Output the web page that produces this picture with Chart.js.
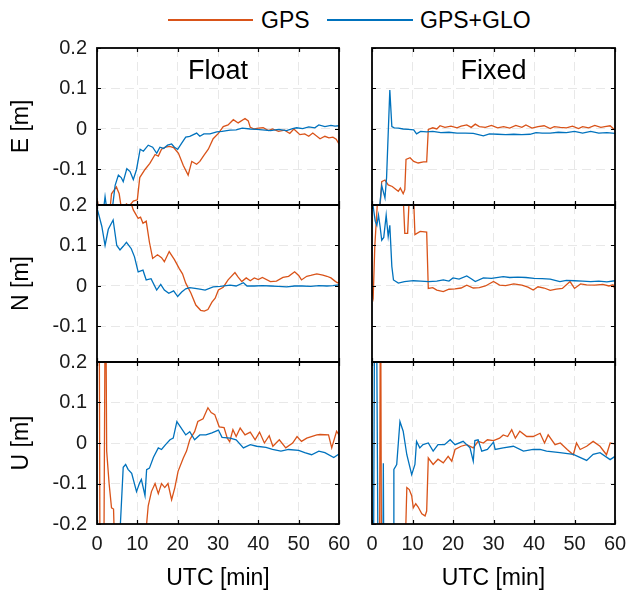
<!DOCTYPE html>
<html>
<head>
<meta charset="utf-8">
<script src="https://cdn.jsdelivr.net/npm/chart.js@4.4.1/dist/chart.umd.min.js"></script>
<style>
  body { margin: 0; background: #fff; width: 628px; height: 592px; position: relative; overflow: hidden;
         font-family: 'Liberation Sans', Arial, Helvetica, sans-serif; }
  canvas { position: absolute; }
  .txt { position: absolute; white-space: nowrap; color: #000; }
  .key { position: absolute; height: 2px; }
</style>
</head>
<body>
<div class="key" style="left:168px;top:19px;width:85px;background:#D95319"></div>
<div class="txt" style="left:261px;top:8px;font-size:23px;line-height:24px">GPS</div>
<div class="key" style="left:327px;top:19px;width:86px;background:#0072BD"></div>
<div class="txt" style="left:420px;top:8px;font-size:23px;line-height:24px">GPS+GLO</div>

<script>
// series labels, panel titles, axis labels
const seriesNames = ['GPS', 'GPS+GLO'];
const columnTitles = ['Float', 'Fixed'];
const rowLabels = ['E [m]', 'N [m]', 'U [m]'];
const xLabel = 'UTC [min]';
const xTicks = [0, 10, 20, 30, 40, 50, 60];
const yTicks = [-0.2, -0.1, 0, 0.1, 0.2];

// [minute, metres]; values past +-0.2 are off the plot
const eFloatGps = [[0,-0.17],[0.3,-0.19],[1,-0.24],[2,-0.25],[3,-0.22],[3.6,-0.16],[4.8,-0.143],[5.5,-0.16],[6.1,-0.2],[7.3,-0.185],[8,-0.19],[9,-0.178],[10,-0.175],[10.6,-0.12],[11.9,-0.1],[13.1,-0.085],[14.4,-0.063],[15.2,-0.067],[16,-0.05],[17,-0.045],[18,-0.043],[19,-0.046],[20.2,-0.06],[21.4,-0.09],[22.6,-0.114],[23.5,-0.08],[24.7,-0.087],[25.5,-0.08],[26.5,-0.065],[27.6,-0.05],[28.8,-0.024],[30.1,-0.011],[31.3,0.006],[32.5,0.01],[33.8,0.023],[35,0.015],[36.7,0.026],[37.5,0.02],[38,0.004],[39,0],[40,0.002],[41.2,0.003],[42.5,-0.004],[43.5,0],[45,-0.006],[46.5,-0.003],[47.8,-0.011],[48.8,0],[50.3,-0.014],[51.5,-0.012],[52.5,-0.018],[53.5,-0.01],[55.3,-0.024],[56.5,-0.018],[57.5,-0.022],[58.5,-0.02],[59.3,-0.025],[60,-0.037]];
const eFloatGlo = [[0,-0.22],[0.8,-0.24],[1.5,-0.21],[2,-0.167],[2.6,-0.21],[3.4,-0.23],[4.5,-0.139],[5.3,-0.114],[6,-0.12],[6.5,-0.13],[7.4,-0.098],[8.2,-0.105],[9,-0.125],[9.8,-0.1],[10.7,-0.05],[11.5,-0.055],[12.7,-0.04],[13.8,-0.045],[14.8,-0.06],[15.6,-0.045],[16.5,-0.048],[17.5,-0.04],[18.5,-0.037],[19.2,-0.045],[20,-0.05],[21,-0.035],[22,-0.02],[23,-0.018],[24.7,-0.01],[25.5,-0.018],[26.5,-0.012],[28,-0.012],[29.7,-0.007],[31,-0.006],[33,-0.003],[34.5,-0.002],[36,0.002],[38,0],[39.6,-0.001],[41,-0.002],[43,-0.004],[45,-0.001],[47,-0.004],[48.5,0.001],[49.5,0.003],[51,0.001],[52.5,0.005],[54,0.003],[55,0.01],[56.5,0.006],[58,0.009],[59,0.007],[60,0.008]];
const eFixedGps = [[0,-0.25],[1,-0.26],[1.8,-0.22],[2.4,-0.13],[3.2,-0.126],[4,-0.138],[5,-0.142],[6,-0.15],[6.5,-0.154],[7,-0.146],[7.7,-0.16],[8.1,-0.15],[8.4,-0.075],[9.4,-0.071],[10.3,-0.08],[11.4,-0.084],[12.7,-0.081],[13.5,-0.081],[13.9,-0.001],[15,0.003],[16,0],[16.8,0.008],[18,0.004],[19.5,0.007],[21,0.003],[22,0.007],[23.4,0.01],[24.5,0.004],[25.5,0.012],[26.5,0.006],[28,0.004],[29.5,0.009],[31,0.003],[32.5,0.006],[34,0.002],[35.5,0.009],[37,0.004],[38,0.01],[39.5,0.002],[41,0.006],[42.5,0.008],[44,0.001],[45,0.006],[46.5,0.004],[48,0.003],[49.5,0.007],[51,0.001],[52,0.006],[53.5,0.003],[55,0.009],[56.5,0.004],[57.5,0.006],[58.8,0.008],[60,-0.003]];
const eFixedGlo = [[0,-0.22],[1,-0.25],[1.7,-0.21],[2.4,-0.14],[3.2,-0.17],[3.6,-0.12],[4.4,0.096],[4.9,0.006],[5.5,0.003],[6.5,0.002],[7.7,0],[9,-0.001],[10.3,-0.002],[11,-0.012],[12,-0.006],[13.5,-0.007],[15,-0.006],[17,-0.009],[19,-0.008],[21,-0.01],[23,-0.01],[25,-0.011],[27.5,-0.017],[29,-0.012],[31,-0.013],[33,-0.014],[35,-0.013],[37,-0.014],[39,-0.013],[40.5,-0.009],[42,-0.01],[44,-0.01],[46,-0.008],[48,-0.009],[50,-0.006],[52,-0.01],[54,-0.006],[56,-0.01],[58,-0.009],[60,-0.011]];

const nFloatGps = [[0,0.3],[1,0.32],[2,0.28],[3,0.3],[4,0.35],[5,0.3],[6,0.28],[7,0.26],[8,0.24],[8.6,0.2],[9,0.188],[10.2,0.167],[10.8,0.17],[11.4,0.155],[12.2,0.16],[13,0.108],[13.8,0.068],[15,0.077],[16,0.07],[16.7,0.06],[17.9,0.085],[19.2,0.065],[20.4,0.043],[21.2,0.03],[22,0.007],[23.3,-0.018],[24.5,-0.047],[25.7,-0.06],[26.6,-0.062],[27.5,-0.058],[28.5,-0.04],[29.3,-0.03],[30.1,-0.01],[31.3,-0.003],[32.5,0.015],[34.2,0.033],[35,0.022],[35.9,0.011],[37,0.02],[38,0.013],[39,0.02],[40,0.016],[41,0.021],[43,0.011],[44.5,0.012],[46.1,0.021],[47.5,0.024],[49,0.035],[50,0.026],[50.7,0.015],[52,0.024],[53,0.026],[54.5,0.03],[56,0.027],[57,0.024],[58,0.02],[59,0.012],[59.6,0.008],[60,0.01]];
const nFloatGlo = [[0,0.193],[0.6,0.17],[1.2,0.147],[2,0.1],[2.8,0.14],[4,0.163],[4.9,0.1],[5.7,0.089],[6.5,0.098],[7.3,0.108],[8.5,0.092],[9.3,0.072],[10.2,0.035],[11.4,0.039],[12.2,0.015],[13.4,0.018],[14.8,-0.01],[15.8,0.004],[16.7,-0.01],[17.8,-0.018],[19,-0.012],[20,-0.026],[21,-0.015],[22,-0.007],[23,-0.004],[24.3,-0.006],[25.5,-0.008],[26.8,-0.01],[28.8,-0.002],[30.5,-0.001],[32,0.001],[33,0.002],[34.5,0],[36.3,0.008],[37.2,0],[39,0],[41,0.001],[43,0],[45,-0.001],[47,-0.002],[49,0],[51,0],[53,-0.001],[55,0.001],[57,0],[58.5,0.001],[60,0.003]];
const nFixedGps = [[0,-0.01],[0.3,-0.026],[0.7,0.1],[1.6,0.25],[3,0.3],[5,0.28],[7,0.26],[7.7,0.22],[8.1,0.13],[8.8,0.13],[9.2,0.22],[9.6,0.25],[10.3,0.21],[10.6,0.127],[11.9,0.135],[13.5,0.133],[13.9,-0.006],[15,-0.004],[16,-0.01],[17.6,-0.014],[19,-0.008],[20.5,-0.007],[22,-0.005],[23.4,0.002],[25,-0.005],[26.5,-0.004],[28,0],[30,0.011],[31.5,0.002],[33,0.001],[35,0.005],[37,0.002],[38.5,-0.003],[39.8,-0.01],[41,-0.002],[42.5,-0.005],[44,-0.011],[45.5,-0.008],[47,-0.006],[48.9,0.011],[50,-0.006],[51.5,0.005],[53,0.003],[55,0.002],[57,0.004],[58.5,0],[59.5,0.003],[60,-0.008]];
const nFixedGlo = [[0,0.21],[0.3,0.195],[0.8,0.16],[1.2,0.15],[1.6,0.175],[2,0.147],[2.4,0.113],[2.9,0.12],[3.5,0.175],[4,0.122],[4.4,0.15],[4.9,0.048],[5.3,0.015],[6.5,0.007],[8,0.011],[10.2,0.013],[12,0.012],[14,0.011],[16,0.012],[17.6,0.015],[19,0.012],[20,0.02],[21.5,0.017],[23.4,0.025],[24.5,0.018],[25.5,0.011],[27.5,0.02],[29.5,0.019],[32.4,0.023],[34,0.021],[36,0.022],[38,0.021],[40,0.019],[42,0.018],[44,0.017],[46.4,0.011],[48,0.014],[50,0.013],[52,0.012],[54,0.011],[56,0.012],[58,0.01],[60,0.013]];

const uFloatGps = [[0,0.5],[0.5,0.5],[0.8,-0.5],[1.6,-0.5],[2.1,0.5],[2.4,-0.02],[3,-0.1],[3.6,-0.16],[4.1,-0.163],[4.5,-0.3],[6,-0.4],[8,-0.35],[10,-0.4],[11.5,-0.3],[12.3,-0.2],[12.7,-0.155],[13.5,-0.12],[14.4,-0.1],[15.2,-0.125],[16,-0.1],[16.8,-0.11],[17.6,-0.1],[18.5,-0.14],[19.3,-0.11],[20.1,-0.07],[21.4,-0.037],[22.2,-0.02],[23,0.008],[24.2,0.028],[25,0.053],[26.3,0.06],[27.5,0.087],[28.3,0.075],[29.2,0.07],[30.3,0.04],[31.5,0.038],[32.3,0.012],[32.9,0.003],[33.7,0.033],[34.5,0.016],[35.5,0.037],[36.7,0.02],[38,0.027],[39.2,0.008],[40.3,0.027],[41.5,0],[42.7,0.018],[43.6,-0.008],[45.2,0.008],[46.8,-0.012],[48.5,0],[49.6,0.016],[50.7,0.004],[52,0.012],[54.5,0.02],[55.3,0.021],[57.4,0.02],[58.2,-0.012],[59.4,0.029],[60,0.02]];
const uFloatGlo = [[0,-0.4],[3,-0.4],[5.3,-0.3],[6,-0.16],[6.5,-0.06],[7.1,-0.053],[7.7,-0.065],[8.6,-0.075],[9.8,-0.12],[10.5,-0.1],[11,-0.09],[11.9,-0.13],[12.3,-0.066],[13,-0.062],[14,-0.035],[15.2,-0.012],[16,-0.016],[17,-0.004],[18.1,0.008],[18.9,0.012],[19.8,0.053],[20.6,0.041],[22,0.02],[23,0.028],[24.2,0.008],[25.5,0.02],[27,0.02],[28.5,0.025],[30.1,0.032],[31,0.014],[33,0.012],[34.5,0.008],[36.3,-0.012],[38,-0.004],[39.6,-0.008],[41.9,-0.011],[43.5,-0.016],[45.6,-0.02],[47.5,-0.016],[50,-0.018],[51.5,-0.024],[53.2,-0.029],[55,-0.02],[56.5,-0.024],[58.7,-0.036],[60,-0.027]];
const uFixedGps = [[0,-0.5],[1.8,-0.5],[2.1,0.5],[2.4,-0.5],[5,-0.5],[8.1,-0.3],[8.6,-0.11],[9.2,-0.115],[9.8,-0.13],[10.2,-0.16],[10.8,-0.15],[11.4,-0.158],[12.3,-0.175],[13.1,-0.18],[13.5,-0.168],[13.9,-0.037],[15.1,-0.053],[16.3,-0.04],[17.6,-0.049],[18.8,-0.033],[19.7,-0.045],[20.5,-0.016],[22,-0.008],[23.4,-0.004],[25,-0.012],[26.2,0.004],[27.5,0],[28.5,0.008],[30,0.006],[31.5,0.012],[32.4,0.02],[33.5,0.016],[34.5,0.033],[35.4,0.012],[36.5,0.029],[38.2,0.016],[39.8,0.016],[41.5,0.024],[42.6,0],[43.5,0.02],[45.2,-0.004],[46.5,0],[48.2,-0.016],[49.7,-0.029],[50.5,0],[51.4,-0.016],[53,-0.008],[54.6,0.004],[56.3,-0.008],[57.9,-0.029],[58.8,0],[60,-0.002]];
const uFixedGlo = [[0,-0.5],[0.3,-0.5],[0.7,0.5],[1.2,0.2],[1.6,-0.5],[2.1,-0.5],[2.6,-0.5],[2.8,-0.05],[3,-0.5],[5.2,-0.5],[5.4,-0.065],[6.1,-0.053],[6.9,0.053],[7.7,0.029],[8.6,-0.029],[9.8,-0.078],[10.6,-0.053],[11,0.004],[11.8,-0.012],[12.6,-0.004],[13.9,0],[15.1,-0.02],[16.3,-0.004],[17.9,-0.004],[19.3,0.008],[20.5,-0.004],[22.5,0.004],[24.2,-0.012],[25,-0.045],[25.4,0.006],[26.2,0.008],[27.1,-0.02],[28.5,-0.016],[30,0.002],[30.4,-0.016],[32.4,-0.012],[34.9,-0.008],[37.4,-0.02],[39.8,-0.016],[41.5,-0.016],[43.1,-0.02],[46.4,-0.024],[49.7,-0.028],[53,-0.043],[54.6,-0.028],[56.3,-0.024],[58.8,-0.041],[60,-0.033]];

const gpsSeries = [[eFloatGps, eFixedGps], [nFloatGps, nFixedGps], [uFloatGps, uFixedGps]];
const gloSeries = [[eFloatGlo, eFixedGlo], [nFloatGlo, nFixedGlo], [uFloatGlo, uFixedGlo]];

// layout (pixels): columns, and rows that overlap like the original subplots
const cols = [{ left: 0, width: 356, axisW: 97, padR: 17 }, { left: 356, width: 272, axisW: 16, padR: 13 }];
const rows = [{ plotTop: 48, plotH: 157, yMin: -0.1877 },
              { plotTop: 205, plotH: 157, yMin: -0.1877 },
              { plotTop: 362, plotH: 162, yMin: -0.2 }];
const PAD_TOP = 14;
const ORANGE = '#D95319', BLUE = '#0072BD';

Chart.defaults.font.family = "'Liberation Sans', Arial, Helvetica, sans-serif";
Chart.defaults.color = '#1a1a1a';

const frame = {
  id: 'frame',
  afterDraw(chart) {
    const { ctx, chartArea: a, scales: { x, y } } = chart;
    ctx.save();
    ctx.strokeStyle = '#000';
    ctx.lineWidth = 1.2;
    ctx.beginPath();
    y.ticks.forEach(t => {
      const py = Math.round(y.getPixelForValue(t.value)) + 0.5;
      ctx.moveTo(a.left, py); ctx.lineTo(a.left + 4, py);
      ctx.moveTo(a.right, py); ctx.lineTo(a.right - 4, py);
    });
    x.ticks.forEach(t => {
      const px = Math.round(x.getPixelForValue(t.value)) + 0.5;
      ctx.moveTo(px, a.top); ctx.lineTo(px, a.top + 4);
      ctx.moveTo(px, a.bottom); ctx.lineTo(px, a.bottom - 4);
    });
    ctx.stroke();
    ctx.lineWidth = 1.8;
    ctx.strokeRect(a.left, a.top, a.right - a.left, a.bottom - a.top);
    ctx.restore();
  }
};

const fmt = v => String(Number(v.toFixed(1)));
// keep the plot box where it belongs: no extra room for overhanging labels
const noOverhang = s => { s.paddingLeft = 0; s.paddingRight = 0; s.paddingTop = 0; s.paddingBottom = 0; };

rows.forEach((row, r) => {
  const last = r === rows.length - 1;
  const xAxisH = last ? 592 - (row.plotTop + row.plotH) : 3;
  cols.forEach((col, c) => {
    const cv = document.createElement('canvas');
    const h = PAD_TOP + row.plotH + xAxisH;
    cv.width = col.width; cv.height = h;
    cv.style.left = col.left + 'px';
    cv.style.top = (row.plotTop - PAD_TOP) + 'px';
    document.body.appendChild(cv);

    const toPts = arr => arr.map(p => ({ x: p[0], y: p[1] }));
    new Chart(cv, {
      type: 'line',
      data: {
        datasets: [
          { label: seriesNames[1], data: toPts(gloSeries[r][c]), borderColor: BLUE, borderWidth: 1.3 },
          { label: seriesNames[0], data: toPts(gpsSeries[r][c]), borderColor: ORANGE, borderWidth: 1.3 }
        ]
      },
      options: {
        responsive: false,
        animation: false,
        events: [],
        elements: { point: { radius: 0 }, line: { tension: 0, fill: false } },
        layout: { padding: { top: PAD_TOP, right: col.padR, left: 0, bottom: 0 } },
        plugins: { legend: { display: false }, tooltip: { enabled: false } },
        scales: {
          x: {
            type: 'linear', min: xTicks[0], max: xTicks[xTicks.length - 1],
            afterFit: s => { s.height = xAxisH; noOverhang(s); },
            afterBuildTicks: s => { s.ticks = xTicks.map(v => ({ value: v })); },
            grid: { color: 'rgba(0,0,0,0.09)', drawTicks: false },
            border: { display: false, dash: [9, 5] },
            ticks: { display: last, padding: 8, font: { size: 20 }, color: '#1a1a1a', maxRotation: 0 },
            title: { display: last, text: xLabel, font: { size: 23 }, color: '#000', padding: { top: 0, bottom: 0 } }
          },
          y: {
            type: 'linear', min: row.yMin, max: yTicks[yTicks.length - 1],
            afterFit: s => { s.width = col.axisW; noOverhang(s); },
            afterBuildTicks: s => { s.ticks = yTicks.filter(v => v >= row.yMin - 1e-9).map(v => ({ value: v })); },
            grid: { color: 'rgba(0,0,0,0.09)', drawTicks: false },
            border: { display: false, dash: [9, 5] },
            ticks: { display: c === 0, padding: 10, font: { size: 20 }, color: '#1a1a1a', callback: fmt },
            title: { display: c === 0, text: rowLabels[r], font: { size: 23 }, color: '#000', padding: { top: 8, bottom: 0 } }
          }
        }
      },
      plugins: [frame]
    });
  });
});

// panel titles
columnTitles.forEach((t, c) => {
  const d = document.createElement('div');
  d.className = 'txt';
  d.textContent = t;
  const left = cols[c].left + cols[c].axisW;
  const w = cols[c].width - cols[c].axisW - cols[c].padR;
  d.style.cssText = `left:${left}px;width:${w}px;top:55px;text-align:center;font-size:27px;line-height:30px`;
  document.body.appendChild(d);
});
</script>
</body>
</html>
